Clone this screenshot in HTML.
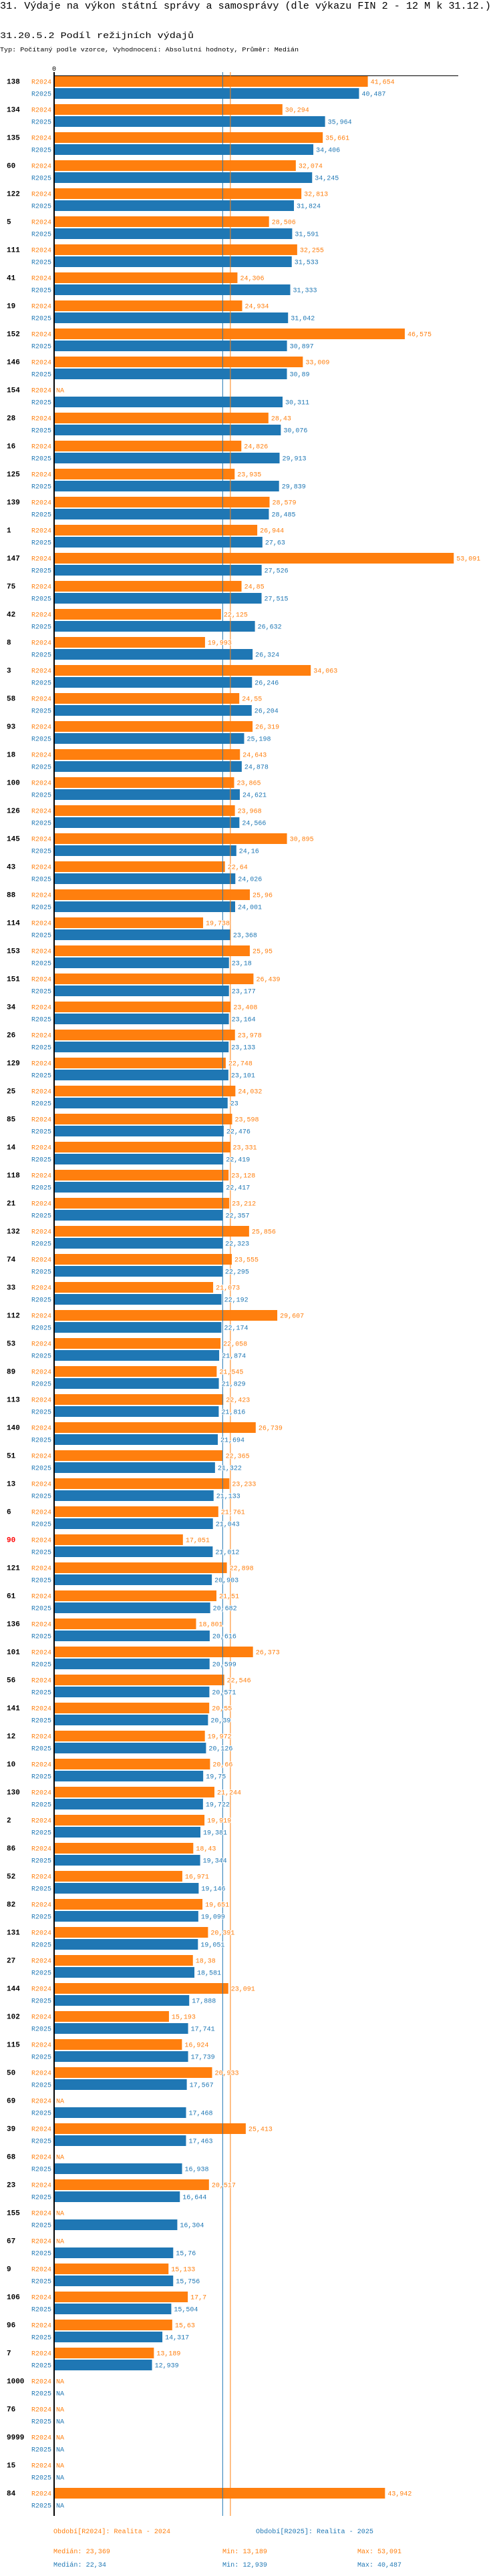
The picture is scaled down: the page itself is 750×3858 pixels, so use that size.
<!DOCTYPE html>
<html><head><meta charset="utf-8"><style>
html,body{margin:0;padding:0;background:#fff;width:750px;height:3858px;overflow:hidden}
svg text{font-family:"Liberation Mono","DejaVu Sans Mono",monospace}
.v{paint-order:stroke;stroke:#fff;stroke-width:2px}
</style></head><body>
<svg id="chart" width="750" height="3858" viewBox="0 0 750 3858" xmlns="http://www.w3.org/2000/svg">
<text x="0" y="13" font-size="15" textLength="735" lengthAdjust="spacingAndGlyphs">31. Výdaje na výkon státní správy a samosprávy (dle výkazu FIN 2 - 12 M k 31.12.)</text>
<text x="0" y="57" font-size="13" textLength="290" lengthAdjust="spacingAndGlyphs">31.20.5.2 Podíl režijních výdajů</text>
<text x="0" y="77" font-size="9" textLength="447" lengthAdjust="spacingAndGlyphs">Typ: Počítaný podle vzorce, Vyhodnocení: Absolutní hodnoty, Průměr: Medián</text>
<g id="marks"></g>
<text x="80" y="3794" font-size="10" fill="#ff7f0e" textLength="175" lengthAdjust="spacingAndGlyphs">Období[R2024]: Realita - 2024</text>
<text x="383" y="3794" font-size="10" fill="#1f77b4" textLength="176" lengthAdjust="spacingAndGlyphs">Období[R2025]: Realita - 2025</text>
<text x="80" y="3824" font-size="10" fill="#ff7f0e" textLength="85" lengthAdjust="spacingAndGlyphs">Medián: 23,369</text>
<text x="333" y="3824" font-size="10" fill="#ff7f0e" textLength="67" lengthAdjust="spacingAndGlyphs">Min: 13,189</text>
<text x="535" y="3824" font-size="10" fill="#ff7f0e" textLength="66" lengthAdjust="spacingAndGlyphs">Max: 53,091</text>
<text x="80" y="3844" font-size="10" fill="#1f77b4" textLength="79" lengthAdjust="spacingAndGlyphs">Medián: 22,34</text>
<text x="333" y="3844" font-size="10" fill="#1f77b4" textLength="67" lengthAdjust="spacingAndGlyphs">Min: 12,939</text>
<text x="535" y="3844" font-size="10" fill="#1f77b4" textLength="66" lengthAdjust="spacingAndGlyphs">Max: 40,487</text>
</svg>
<script>
const categories = ["138","134","135","60","122","5","111","41","19","152","146","154","28","16","125","139","1","147","75","42","8","3","58","93","18","100","126","145","43","88","114","153","151","34","26","129","25","85","14","118","21","132","74","33","112","53","89","113","140","51","13","6","90","121","61","136","101","56","141","12","10","130","2","86","52","82","131","27","144","102","115","50","69","39","68","23","155","67","9","106","96","7","1000","76","9999","15","84"];
const values2024 = [41.654,30.294,35.661,32.074,32.813,28.506,32.255,24.306,24.934,46.575,33.009,null,28.43,24.826,23.935,28.579,26.944,53.091,24.85,22.125,19.993,34.063,24.55,26.319,24.643,23.865,23.968,30.895,22.64,25.96,19.738,25.95,26.439,23.408,23.978,22.748,24.032,23.598,23.331,23.128,23.212,25.856,23.555,21.073,29.607,22.058,21.545,22.423,26.739,22.365,23.233,21.761,17.051,22.898,21.51,18.801,26.373,22.546,20.55,19.972,20.66,21.244,19.919,18.43,16.971,19.651,20.391,18.38,23.091,15.193,16.924,20.933,null,25.413,null,20.517,null,null,15.133,17.7,15.63,13.189,null,null,null,null,43.942];
const values2025 = [40.487,35.964,34.406,34.245,31.824,31.591,31.533,31.333,31.042,30.897,30.89,30.311,30.076,29.913,29.839,28.485,27.63,27.526,27.515,26.632,26.324,26.246,26.204,25.198,24.878,24.621,24.566,24.16,24.026,24.001,23.368,23.18,23.177,23.164,23.133,23.101,23,22.476,22.419,22.417,22.357,22.323,22.295,22.192,22.174,21.874,21.829,21.816,21.694,21.322,21.133,21.043,21.012,20.903,20.682,20.616,20.599,20.571,20.39,20.126,19.75,19.722,19.381,19.344,19.146,19.099,19.051,18.581,17.888,17.741,17.739,17.567,17.468,17.463,16.938,16.644,16.304,15.76,15.756,15.504,14.317,12.939,null,null,null,null,null];
const medians = [23.369, 22.34];
const highlighted = ["90"];

const NS = "http://www.w3.org/2000/svg";
const X0 = 82, PX = 11.25, TOP = 114, PITCH = 42, BH = 16;
const xs = v => X0 + v * PX;
const ys = i => TOP + i * PITCH;
const fmt = v => String(v).replace('.', ',');
const g = document.getElementById('marks');
function mk(tag, attrs, txt) {
  const e = document.createElementNS(NS, tag);
  for (const k in attrs) e.setAttribute(k, attrs[k]);
  if (txt !== undefined) e.textContent = txt;
  g.appendChild(e);
  return e;
}
const endY = ys(categories.length - 1) + 42;

// axes
let e = mk('line', {x1: 81, y1: 113.5, x2: 686, y2: 113.5, stroke: '#000', 'stroke-width': 1});


e = mk('text', {x: 81, y: 106, 'font-size': 10, 'text-anchor': 'middle'}, '0');



const colors = ['#ff7f0e', '#1f77b4'];
const series = [values2024, values2025];
const slabels = ['R2024', 'R2025'];

categories.forEach((c, i) => {
  const y = ys(i);
  const t = mk('text', {x: 10, y: y + 11.5, 'font-size': 11, 'font-weight': 'bold', fill: highlighted.includes(c) ? '#ff0000' : '#000'}, c);
  
  
  series.forEach((s, k) => {
    const by = y + k * 18;
    const lbl = mk('text', {x: 77, y: by + 11.5, 'font-size': 10, 'text-anchor': 'end', fill: colors[k]}, slabels[k]);
    
    
    const v = s[i];
    if (v === null) {
      const na = mk('text', {x: 84, y: by + 11.5, 'font-size': 10, fill: colors[k]}, 'NA');
      
      
    } else {
      const r = mk('rect', {x: X0, y: by, width: xs(v) - X0, height: BH, fill: colors[k]});
      
      
    }
  });
});

// median lines
medians.forEach((m, k) => {
  const l = mk('line', {x1: xs(m), y1: 108, x2: xs(m), y2: endY, stroke: colors[k], 'stroke-width': 1});
  
  
});

// value labels on top
categories.forEach((c, i) => {
  series.forEach((s, k) => {
    const v = s[i];
    if (v === null) return;
    const by = ys(i) + k * 18;
    const t = mk('text', {x: xs(v) + 4, y: by + 11.5, 'font-size': 10, fill: colors[k], class: 'v'}, fmt(v));
    
    
  });
});

e = mk('line', {x1: 81, y1: 108, x2: 81, y2: endY, stroke: '#000', 'stroke-width': 2});


</script>
</body></html>
